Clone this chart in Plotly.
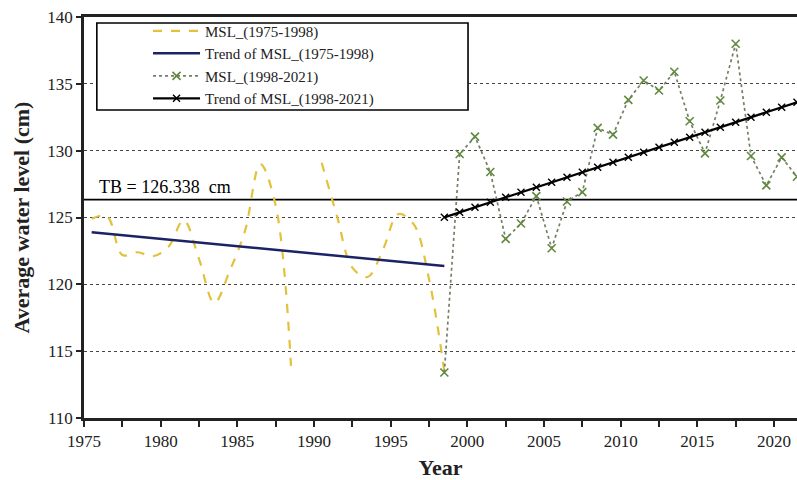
import numpy as np
import plotly.graph_objects as go

# ---------------- data ----------------
years_early = list(range(1975, 1999))
msl_early = [124.9, 125.1, 122.2, 122.4, 122.1, 122.8, 124.8, 121.9, 118.6, 121.0,
             124.0, 129.0, 125.9, 113.9, None, 129.1, 125.1, 121.25, 120.55, 122.6,
             125.25, 124.5, 120.4, 113.5]

years_late = list(range(1998, 2022))
msl_late = [113.4, 129.75, 131.05, 128.4, 123.4, 124.55, 126.6, 122.7, 126.2, 126.9,
            131.7, 131.2, 133.8, 135.25, 134.5, 135.9, 132.2, 129.8, 133.75, 138.0,
            129.6, 127.4, 129.5, 128.05]

tb_value = 126.338
y_tick_values = [110, 115, 120, 125, 130, 135, 140]
x_tick_years = [1975, 1980, 1985, 1990, 1995, 2000, 2005, 2010, 2015, 2020]

names = ["MSL_(1975-1998)", "Trend of MSL_(1975-1998)",
         "MSL_(1998-2021)", "Trend of MSL_(1998-2021)"]


def linear_trend(xs, ys):
    pts = [(x, y) for x, y in zip(xs, ys) if y is not None]
    px = np.array([p[0] for p in pts], dtype=float)
    py = np.array([p[1] for p in pts], dtype=float)
    slope, intercept = np.polyfit(px, py, 1)
    return [slope * x + intercept for x in xs]


trend_early = linear_trend(years_early, msl_early)
trend_late = linear_trend(years_late, msl_late)

FONT = "Liberation Serif, Times New Roman, serif"
YELLOW = "#E2C23C"
NAVY = "#1B2266"
GREEN = "#62883F"

fig = go.Figure()

fig.add_trace(go.Scatter(
    x=years_early, y=msl_early, name=names[0], mode="lines",
    line=dict(color=YELLOW, width=2.2, dash="dash", shape="spline", smoothing=1.0),
    connectgaps=False))

fig.add_trace(go.Scatter(
    x=[years_early[0], years_early[-1]], y=[trend_early[0], trend_early[-1]],
    name=names[1], mode="lines", line=dict(color=NAVY, width=2.5)))

fig.add_trace(go.Scatter(
    x=years_late, y=msl_late, name=names[2], mode="lines+markers",
    line=dict(color="#737F66", width=1.7, dash="dot"),
    marker=dict(symbol="x-thin-open", size=8, color=GREEN, line=dict(color=GREEN, width=1.6))))

fig.add_trace(go.Scatter(
    x=years_late, y=trend_late, name=names[3], mode="lines+markers",
    line=dict(color="black", width=2.2),
    marker=dict(symbol="x-thin-open", size=7, color="black", line=dict(color="black", width=1.4))))

# TB threshold line and label
fig.add_shape(type="line", xref="paper", x0=0, x1=1, yref="y", y0=tb_value, y1=tb_value,
              line=dict(color="black", width=1.6), layer="below")
fig.add_annotation(xref="paper", x=0.018, yref="y", y=tb_value, xanchor="left", yanchor="bottom",
                   text=f"TB = {tb_value}\u00a0\u00a0cm", showarrow=False,
                   font=dict(family=FONT, size=18, color="black"), yshift=1)

# legend frame
fig.add_shape(type="rect", xref="paper", yref="paper", x0=0.018, x1=0.5386, y0=0.768, y1=0.985,
              line=dict(color="black", width=1.6), fillcolor="white", layer="above")

tick_offset = 0.5
fig.update_layout(
    width=797, height=480,
    margin=dict(l=84, r=0, t=17, b=62),
    paper_bgcolor="white", plot_bgcolor="white",
    font=dict(family=FONT, size=17, color="#222"),
    showlegend=True,
    legend=dict(x=0.0898, y=1.006, xanchor="left", yanchor="top",
                bgcolor="rgba(0,0,0,0)", borderwidth=0, itemwidth=47,
                font=dict(family=FONT, size=15, color="#222"), tracegroupgap=0),
    xaxis=dict(
        range=[1974.5, 2021.0],
        tickmode="array",
        tickvals=[y - tick_offset for y in x_tick_years],
        ticktext=[str(y) for y in x_tick_years],
        ticks="outside", ticklen=6, tickwidth=1.5, tickcolor="#222",
        minor=dict(tickmode="array",
                   tickvals=[y - tick_offset + 2.5 for y in x_tick_years],
                   ticks="outside", ticklen=6, tickwidth=1.5, tickcolor="#222"),
        showline=True, linecolor="#222", linewidth=2.5, mirror=True,
        showgrid=False, zeroline=False,
        tickfont=dict(family=FONT, size=17, color="#222"),
        title=dict(text="<b>Year</b>", font=dict(family=FONT, size=22, color="#222"), standoff=12),
    ),
    yaxis=dict(
        range=[110, 140],
        tickmode="array", tickvals=y_tick_values,
        ticks="outside", ticklen=5, tickwidth=1.5, tickcolor="#222",
        showline=True, linecolor="#222", linewidth=2.5,
        showgrid=True, gridcolor="#444", griddash="dot", gridwidth=1,
        zeroline=False,
        tickfont=dict(family=FONT, size=17, color="#222"),
        title=dict(text="<b>Average water level (cm)</b>", font=dict(family=FONT, size=22, color="#222"),
                   standoff=12),
    ),
)

fig.write_html("out.html", config={"displayModeBar": False},
               post_script="document.body.style.margin='0';document.body.style.overflow='hidden';")
